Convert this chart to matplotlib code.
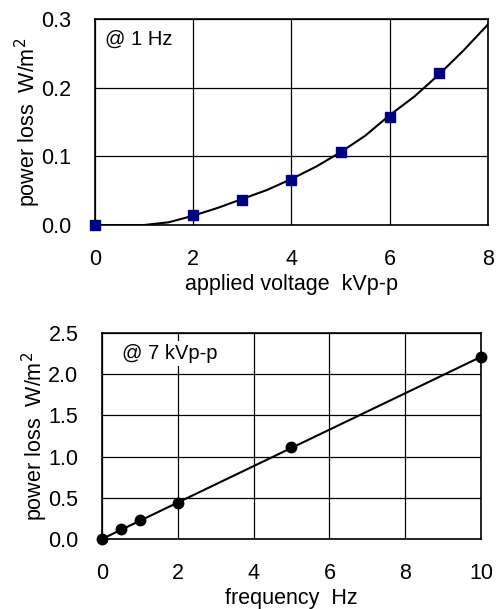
import matplotlib.pyplot as plt

plt.rcParams['font.family'] = ['Liberation Sans', 'DejaVu Sans']

# top panel: power loss vs applied voltage at 1 Hz
voltage = [0, 2, 3, 4, 5, 6, 7]
loss_v = [0.0, 0.015, 0.037, 0.065, 0.106, 0.157, 0.221]
fit_v_x = [0, 0.5, 1.0, 1.5, 2.0, 2.5, 3.0, 3.5, 4.0, 4.5, 5.0, 5.5, 6.0, 6.5, 7.0, 7.5, 8.0]
fit_v_y = [0.0, 0.0, 0.0, 0.004, 0.0136, 0.025, 0.038, 0.051, 0.067, 0.085, 0.106,
           0.13, 0.16, 0.187, 0.219, 0.254, 0.292]

# bottom panel: power loss vs frequency at 7 kVp-p
freq = [0, 0.5, 1, 2, 5, 10]
loss_f = [0.0, 0.12, 0.23, 0.44, 1.11, 2.21]
fit_f_x = [0, 10]
fit_f_y = [0.0, 2.21]

fig = plt.figure(figsize=(4.98, 6.09), dpi=100)
ax1 = fig.add_axes([0.1908, 0.6305, 0.789, 0.3383])
ax2 = fig.add_axes([0.2048, 0.115, 0.761, 0.3383])

fs = 15.5
lfs = 15.5

#### top plot ####
ax1.plot(fit_v_x, fit_v_y, color='k', linewidth=1.5, zorder=3)
ax1.plot(voltage, loss_v, 's', color='#000080', markersize=6.5, zorder=4, clip_on=False)
ax1.set_xlim(0, 8)
ax1.set_ylim(0, 0.3)
ax1.set_xticks([0, 2, 4, 6, 8])
ax1.set_yticks([0.0, 0.1, 0.2, 0.3])
ax1.set_yticklabels(['0.0', '0.1', '0.2', '0.3'])
ax1.set_xlabel('applied voltage  kVp-p', fontsize=lfs, labelpad=3)
ax1.set_ylabel('power loss  W/m$^2$', fontsize=lfs, labelpad=-1)
ax1.text(0.025, 0.9, '@ 1 Hz', transform=ax1.transAxes, fontsize=14.5, va='center',
         ha='left', zorder=5, bbox=dict(facecolor='white', edgecolor='none', pad=2))

#### bottom plot ####
ax2.plot(fit_f_x, fit_f_y, color='k', linewidth=1.5, zorder=3)
ax2.plot(freq, loss_f, 'o', color='k', markersize=7.5, zorder=4, clip_on=False)
ax2.set_xlim(0, 10)
ax2.set_ylim(0, 2.5)
ax2.set_xticks([0, 2, 4, 6, 8, 10])
ax2.set_yticks([0.0, 0.5, 1.0, 1.5, 2.0, 2.5])
ax2.set_yticklabels(['0.0', '0.5', '1.0', '1.5', '2.0', '2.5'])
ax2.set_xlabel('frequency  Hz', fontsize=lfs, labelpad=3)
ax2.set_ylabel('power loss  W/m$^2$', fontsize=lfs, labelpad=-1)
ax2.text(0.053, 0.9, '@ 7 kVp-p', transform=ax2.transAxes, fontsize=14.5, va='center',
         ha='left', zorder=5, bbox=dict(facecolor='white', edgecolor='none', pad=2))

for ax in (ax1, ax2):
    ax.grid(True, color='k', linewidth=0.9)
    ax.set_axisbelow(True)
    ax.tick_params(axis='x', length=0, labelsize=fs, pad=17)
    ax.tick_params(axis='y', length=0, labelsize=fs, pad=17)
    for s in ax.spines.values():
        s.set_linewidth(1.2)
        s.set_color('k')

fig.savefig('out.png', dpi=100)
